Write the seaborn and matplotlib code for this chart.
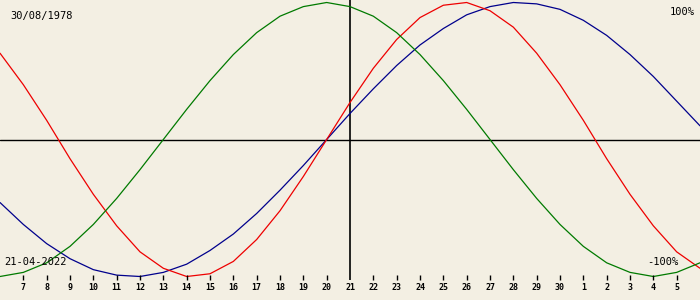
import matplotlib
matplotlib.use("Agg")
import matplotlib.pyplot as plt
import seaborn as sns
import pandas as pd
import numpy as np

# Day labels (April 6 .. May 6, 2022)
day_labels = ["6", "7", "8", "9", "10", "11", "12", "13", "14", "15", "16", "17", "18", "19", "20",
              "21", "22", "23", "24", "25", "26", "27", "28", "29", "30", "1", "2", "3", "4", "5", "6"]

# Biorhythm values (fraction of 100%)
physical = [0.63, 0.40, 0.14, -0.14, -0.40, -0.63, -0.82, -0.94, -1.00, -0.98, -0.89, -0.73, -0.52, -0.27, 0.00,
            0.27, 0.52, 0.73, 0.89, 0.98, 1.00, 0.94, 0.82, 0.63, 0.40, 0.14, -0.14, -0.40, -0.63, -0.82, -0.94]
emotional = [-1.00, -0.97, -0.90, -0.78, -0.62, -0.43, -0.22, 0.00, 0.22, 0.43, 0.62, 0.78, 0.90, 0.97, 1.00,
             0.97, 0.90, 0.78, 0.62, 0.43, 0.22, 0.00, -0.22, -0.43, -0.62, -0.78, -0.90, -0.97, -1.00, -0.97, -0.90]
intellectual = [-0.46, -0.62, -0.76, -0.87, -0.95, -0.99, -1.00, -0.97, -0.91, -0.81, -0.69, -0.54, -0.37, -0.19, 0.00,
                0.19, 0.37, 0.54, 0.69, 0.81, 0.91, 0.97, 1.00, 0.99, 0.95, 0.87, 0.76, 0.62, 0.46, 0.28, 0.10]

birth_label = "30/08/1978"
date_label = "21-04-2022"
current_index = 15

sns.set_theme(style="white")
plt.rcParams['font.family'] = ['DejaVu Sans Mono', 'DejaVu Sans']

bg = "#f3efe3"
fig = plt.figure(figsize=(7, 3), dpi=100, facecolor=bg)
ax = fig.add_axes([0, 0, 1, 1])
ax.set_facecolor(bg)

idx = list(range(len(day_labels)))
df = pd.DataFrame({"day": idx, "Physical": physical, "Emotional": emotional, "Intellectual": intellectual})
long = df.melt(id_vars="day", var_name="cycle", value_name="value")
palette = {"Physical": "#ee0000", "Emotional": "#007a00", "Intellectual": "#00008c"}
sns.lineplot(data=long, x="day", y="value", hue="cycle", palette=palette, ax=ax,
             linewidth=0.9, legend=False, hue_order=["Intellectual", "Physical", "Emotional"])

# pixel mapping: center 139.5 px, amplitude 137 px
def v(py):
    return (139.5 - py) / 137.0

ax.set_xlim(0, 30)
ax.set_ylim(v(300), v(0))

ax.axhline(0, color="black", linewidth=1.0, zorder=1)
ax.vlines(current_index, v(280), v(0), color="black", linewidth=1.2, zorder=1)

for i, lab in enumerate(day_labels):
    if 0 < i < len(day_labels) - 1:
        if i != current_index:
            ax.vlines(i, v(280), v(275), color="black", linewidth=1.0)
        ax.text(i, v(288), lab, ha="center", va="center", fontsize=6, color="black",
                fontweight="bold")

ax.text(10 / 700 * 30, v(16), birth_label, ha="left", va="center", fontsize=7.5, color="black")
ax.text(4 / 700 * 30, v(262), date_label, ha="left", va="center", fontsize=7.5, color="black")
ax.text(695 / 700 * 30, v(12), "100%", ha="right", va="center", fontsize=7.5, color="black")
ax.text(678 / 700 * 30, v(262), "-100%", ha="right", va="center", fontsize=7.5, color="black")

ax.set_axis_off()
fig.savefig("out.png", dpi=100, facecolor=bg)
